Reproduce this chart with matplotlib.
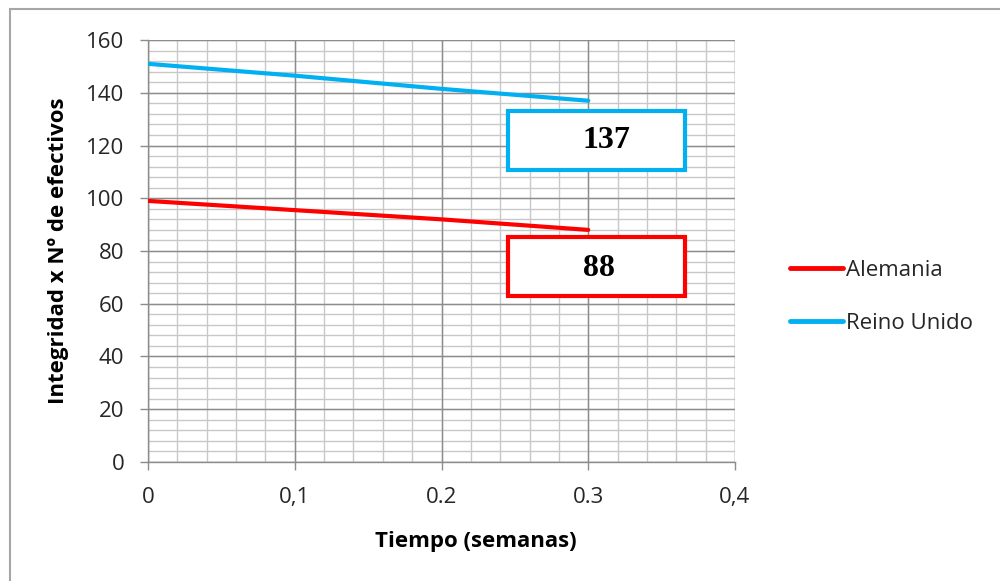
import matplotlib.pyplot as plt
from matplotlib.patches import Rectangle
from matplotlib.lines import Line2D
import numpy as np

# data
tiempo = [0.0, 0.1, 0.2, 0.3]
alemania = [99, 95.5, 92, 88]
reino_unido = [151, 146.5, 141.5, 137]
x_ticks = [0, 0.1, 0.2, 0.3, 0.4]
x_tick_labels = ["0", "0,1", "0.2", "0.3", "0,4"]
y_ticks = [0, 20, 40, 60, 80, 100, 120, 140, 160]

RED = "#ff0000"
BLUE = "#00b0f0"
GRID_MAJOR = "#8c8c8c"
GRID_MINOR = "#c8c8c8"
TXT = "#262626"

plt.rcParams["font.family"] = ["Open Sans", "DejaVu Sans"]

fig = plt.figure(figsize=(10, 5.81), dpi=100)
ax = fig.add_axes([0.148, 0.205, 0.587, 0.726])

# figure frame (only top and left visible in the reference)
fig.patches.append(Rectangle((0.010, -0.1), 1.2, 1.085, transform=fig.transFigure,
                             fill=False, edgecolor="#a6a6a6", linewidth=1.5))

ax.set_xlim(0, 0.4)
ax.set_ylim(0, 160)

# minor grid
for xv in np.arange(0, 0.4001, 0.02):
    ax.axvline(xv, color=GRID_MINOR, lw=1.0, zorder=0)
for yv in np.arange(0, 160.01, 4):
    ax.axhline(yv, color=GRID_MINOR, lw=1.0, zorder=0)
# major grid
for xv in x_ticks:
    ax.axvline(xv, color=GRID_MAJOR, lw=1.0, zorder=0.5)
for yv in y_ticks:
    ax.axhline(yv, color=GRID_MAJOR, lw=1.0, zorder=0.5)

ax.plot(tiempo, alemania, color=RED, lw=3, solid_capstyle="round", label="Alemania", zorder=3)
ax.plot(tiempo, reino_unido, color=BLUE, lw=3, solid_capstyle="round", label="Reino Unido", zorder=3)

for s in ["top", "right"]:
    ax.spines[s].set_visible(False)
for s in ["left", "bottom"]:
    ax.spines[s].set_color(GRID_MAJOR)
    ax.spines[s].set_linewidth(1.0)

ax.set_xticks(x_ticks)
ax.set_xticklabels(x_tick_labels)
ax.set_yticks(y_ticks)
ax.tick_params(axis="both", length=6, width=1, color=GRID_MAJOR, labelcolor=TXT,
               labelsize=16, direction="out")
ax.tick_params(axis="x", pad=12)
ax.tick_params(axis="y", pad=11)

ax.set_xlabel("Tiempo (semanas)", fontsize=16, fontweight="bold", color="black")
ax.xaxis.set_label_coords(0.559, -0.165)
ax.set_ylabel("Integridad x Nº de efectivos", fontsize=16, fontweight="bold", color="black", labelpad=12)

# value boxes with the last value of each series
fig.patches.append(Rectangle((0.508, 1 - 170 / 581), 0.177, 59 / 581, transform=fig.transFigure,
                             facecolor="white", edgecolor=BLUE, linewidth=3, zorder=5))
fig.patches.append(Rectangle((0.508, 1 - 296 / 581), 0.177, 59 / 581, transform=fig.transFigure,
                             facecolor="white", edgecolor=RED, linewidth=3, zorder=5))
fig.text(0.6065, 1 - 141 / 581, str(reino_unido[-1]), ha="center", va="center", fontsize=23,
         fontweight="bold", family="Liberation Serif", color="black", zorder=6)
fig.text(0.5985, 1 - 269 / 581, str(alemania[-1]), ha="center", va="center", fontsize=23,
         fontweight="bold", family="Liberation Serif", color="black", zorder=6)

handles = [Line2D([], [], color=RED, lw=3.5, solid_capstyle="round"),
           Line2D([], [], color=BLUE, lw=3.5, solid_capstyle="round")]
fig.legend(handles, ["Alemania", "Reino Unido"], loc="upper left",
           bbox_to_anchor=(0.790, 1 - 260 / 581), frameon=False, fontsize=16,
           handlelength=2.4, handletextpad=0.12, labelspacing=1.45, labelcolor=TXT,
           borderpad=0, borderaxespad=0)

fig.savefig("out.png", dpi=100)
